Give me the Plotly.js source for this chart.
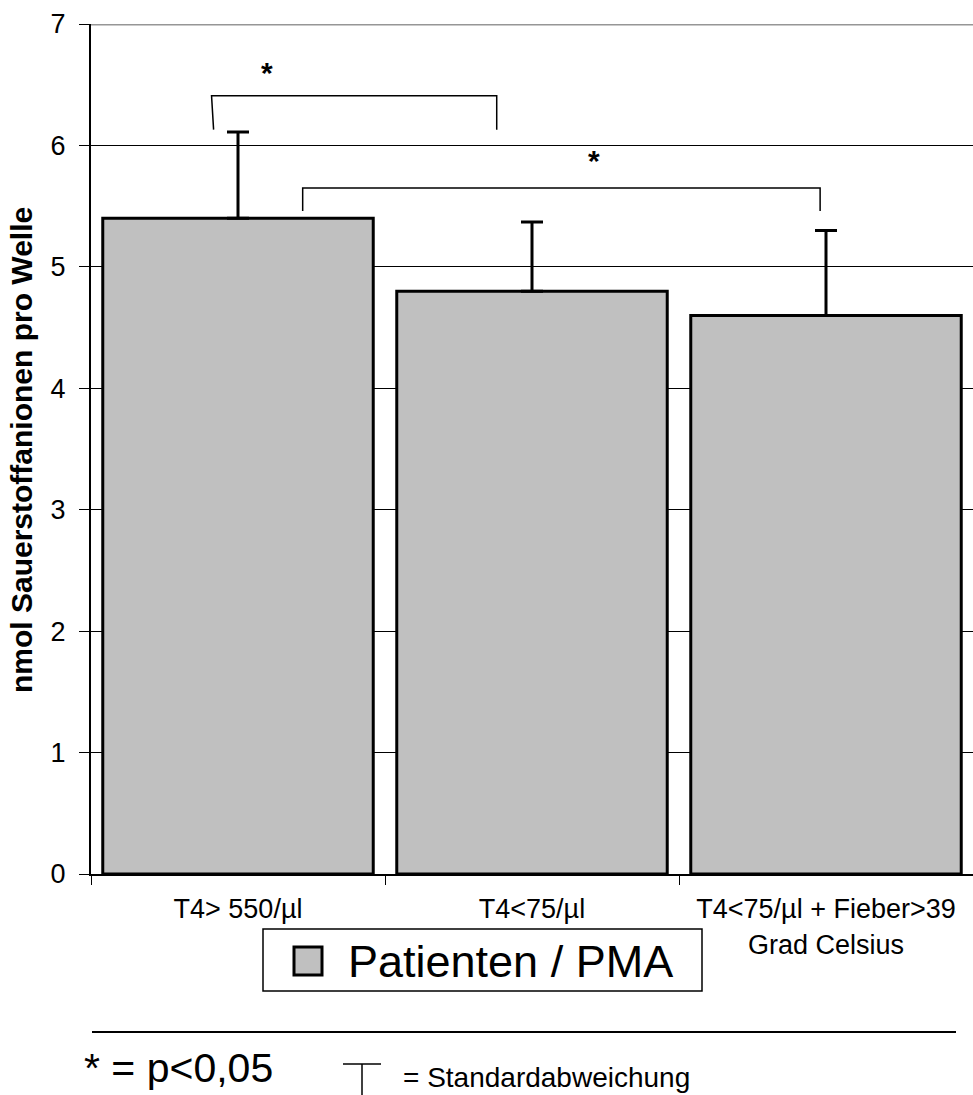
<!DOCTYPE html>
<html>
<head>
<meta charset="utf-8">
<script src="https://cdn.plot.ly/plotly-3.0.1.min.js"></script>
<style>html,body{margin:0;padding:0;background:#fff;}#chart{width:973px;height:1095px;}</style>
</head>
<body>
<div id="chart"></div>
<script>
// ---- data ----
const categories = ['T4> 550/µl', 'T4<75/µl', 'T4<75/µl + Fieber>39<br>Grad Celsius'];
const seriesName = 'Patienten / PMA';
const means = [5.40, 4.80, 4.60];
const sdUpper = [0.71, 0.57, 0.70];
const yTickVals = [0, 1, 2, 3, 4, 5, 6, 7];
const yTitle = 'nmol Sauerstoffanionen pro Welle';
// significance brackets (category index / value units)
const bracketFrom = [-0.09, 0.22];
const bracketTo = [0.88, 1.98];
const bracketLow = [6.13, 5.46];
const bracketHigh = [6.41, 5.65];
const starX = [0.10, 1.21];
const starY = [6.60, 5.88];
const bracketLabel = ['*', '*'];
const footnoteSig = '* = p<0,05';
const footnoteSD = '= Standardabweichung';

const FONT = 'Liberation Sans, Arial, sans-serif';
const esc = s => s.replace(/</g, '&lt;').replace(/>/g, '&gt;').replace(/&lt;br&gt;/g, '<br>');

// paper coordinate helpers (plot area: x 91..973, y 24..874)
const PX = px => (px - 91) / 882;
const PY = py => (874 - py) / 850;

const trace = {
  type: 'bar',
  x: categories,
  y: means,
  name: seriesName,
  marker: { color: '#c0c0c0', line: { color: '#000', width: 3 } },
  error_y: { type: 'data', array: sdUpper, arrayminus: means.map(() => 0), symmetric: false,
             color: '#000', thickness: 3, width: 11 },
  showlegend: false,
  hoverinfo: 'skip'
};

const shapes = [];
const annotations = [];

// top (y=7) gray line
shapes.push({ type: 'line', xref: 'paper', yref: 'y', x0: 0, x1: 1, y0: 7, y1: 7,
  line: { color: '#969696', width: 3 }, layer: 'above' });

bracketFrom.forEach((x0, i) => {
  const x1 = bracketTo[i];
  const lo = bracketLow[i], hi = bracketHigh[i];
  shapes.push({ type: 'path', xref: 'x', yref: 'y',
    path: `M ${x0 + (i === 0 ? 0.007 : 0)},${lo} L ${x0},${hi} L ${x1},${hi} L ${x1},${lo}`,
    line: { color: '#000', width: 1.5 } });
  annotations.push({ xref: 'x', yref: 'y', x: starX[i], y: starY[i],
    text: '<b>' + bracketLabel[i] + '</b>', showarrow: false, font: { family: FONT, size: 30, color: '#000' },
    xanchor: 'center', yanchor: 'middle' });
});

// y axis title (rotated)
annotations.push({ xref: 'paper', yref: 'paper', x: PX(21), y: PY(450), text: '<b>' + yTitle + '</b>',
  textangle: -90, showarrow: false, font: { family: FONT, size: 30, color: '#000' },
  xanchor: 'center', yanchor: 'middle' });

// legend box
shapes.push({ type: 'rect', xref: 'paper', yref: 'paper', x0: PX(263), x1: PX(702), y0: PY(929), y1: PY(991),
  line: { color: '#000', width: 1.5 }, fillcolor: '#fff' });
shapes.push({ type: 'rect', xref: 'paper', yref: 'paper', x0: PX(294), x1: PX(322), y0: PY(947), y1: PY(975),
  line: { color: '#000', width: 3 }, fillcolor: '#c0c0c0' });
annotations.push({ xref: 'paper', yref: 'paper', x: PX(346), y: PY(961), text: seriesName, showarrow: false,
  font: { family: FONT, size: 45, color: '#000' }, xanchor: 'left', yanchor: 'middle' });

// footnote
shapes.push({ type: 'line', xref: 'paper', yref: 'paper', x0: PX(92), x1: PX(956), y0: PY(1032), y1: PY(1032),
  line: { color: '#000', width: 2 } });
annotations.push({ xref: 'paper', yref: 'paper', x: PX(82), y: PY(1068), text: esc(footnoteSig), showarrow: false,
  font: { family: FONT, size: 41, color: '#000' }, xanchor: 'left', yanchor: 'middle' });
shapes.push({ type: 'line', xref: 'paper', yref: 'paper', x0: PX(343), x1: PX(381), y0: PY(1064), y1: PY(1064),
  line: { color: '#000', width: 1.5 } });
shapes.push({ type: 'line', xref: 'paper', yref: 'paper', x0: PX(362), x1: PX(362), y0: PY(1064), y1: PY(1100),
  line: { color: '#000', width: 1.5 } });
annotations.push({ xref: 'paper', yref: 'paper', x: PX(401), y: PY(1077), text: footnoteSD, showarrow: false,
  font: { family: FONT, size: 28, color: '#000' }, xanchor: 'left', yanchor: 'middle' });

const layout = {
  width: 973, height: 1095,
  margin: { l: 91, r: 0, t: 24, b: 221 },
  paper_bgcolor: '#fff', plot_bgcolor: '#fff',
  font: { family: FONT, color: '#000' },
  bargap: 0.08,
  showlegend: false,
  xaxis: {
    type: 'category',
    tickvals: categories, ticktext: categories.map(esc),
    tickson: 'boundaries', ticks: 'outside', ticklen: 9, tickwidth: 1, tickcolor: '#000',
    showline: true, linecolor: '#000', linewidth: 2,
    showgrid: false, zeroline: false,
    tickfont: { family: FONT, size: 27, color: '#000' },
    ticklabelstandoff: 10,
    automargin: false, fixedrange: true
  },
  yaxis: {
    range: [0, 7], tickvals: yTickVals,
    ticks: 'outside', ticklen: 10, tickwidth: 1, tickcolor: '#000',
    showline: true, linecolor: '#000', linewidth: 2,
    showgrid: true, gridcolor: '#000', gridwidth: 1.2, zeroline: false,
    tickfont: { family: FONT, size: 27, color: '#000' },
    ticklabelstandoff: 8,
    automargin: false, fixedrange: true
  },
  shapes: shapes,
  annotations: annotations
};

Plotly.newPlot('chart', [trace], layout, { displayModeBar: false, staticPlot: true });
</script>
</body>
</html>
